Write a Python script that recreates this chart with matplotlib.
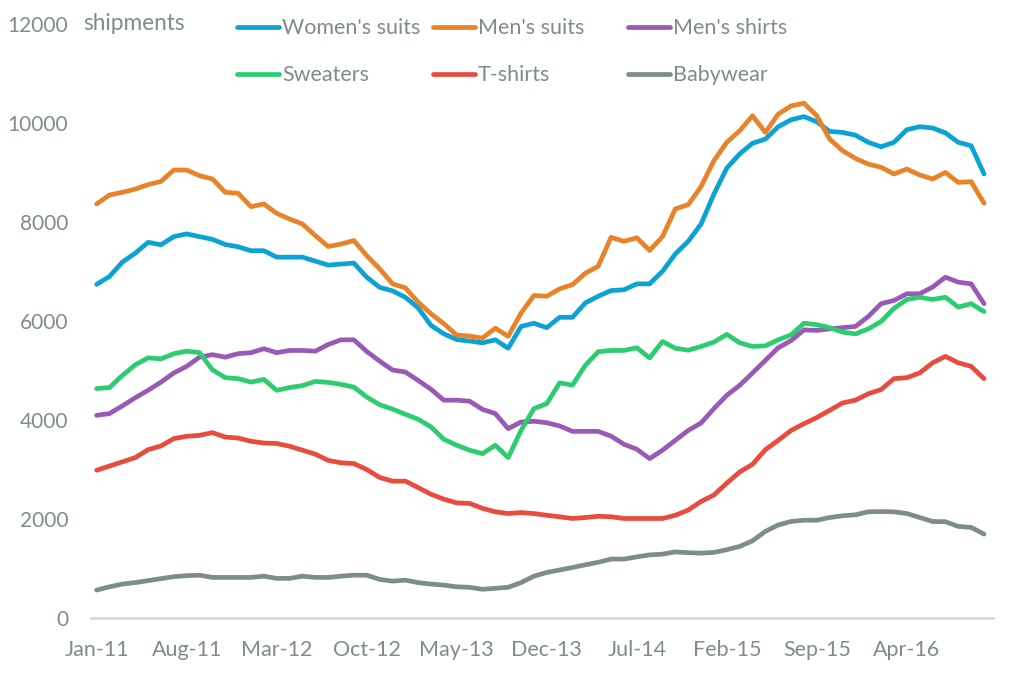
import matplotlib
matplotlib.use("Agg")
import matplotlib.pyplot as plt
from matplotlib.lines import Line2D
import numpy as np

plt.rcParams['font.family'] = ['Lato', 'DejaVu Sans']

months = ["Jan-11","Feb-11","Mar-11","Apr-11","May-11","Jun-11","Jul-11","Aug-11","Sep-11","Oct-11","Nov-11","Dec-11",
          "Jan-12","Feb-12","Mar-12","Apr-12","May-12","Jun-12","Jul-12","Aug-12","Sep-12","Oct-12","Nov-12","Dec-12",
          "Jan-13","Feb-13","Mar-13","Apr-13","May-13","Jun-13","Jul-13","Aug-13","Sep-13","Oct-13","Nov-13","Dec-13",
          "Jan-14","Feb-14","Mar-14","Apr-14","May-14","Jun-14","Jul-14","Aug-14","Sep-14","Oct-14","Nov-14","Dec-14",
          "Jan-15","Feb-15","Mar-15","Apr-15","May-15","Jun-15","Jul-15","Aug-15","Sep-15","Oct-15","Nov-15","Dec-15",
          "Jan-16","Feb-16","Mar-16","Apr-16","May-16","Jun-16","Jul-16","Aug-16","Sep-16","Oct-16"]
tick_labels = ["Jan-11","Aug-11","Mar-12","Oct-12","May-13","Dec-13","Jul-14","Feb-15","Sep-15","Apr-16"]

womens_suits = [6740, 6900, 7190, 7370, 7590, 7540, 7705, 7760, 7705, 7650, 7545, 7500,
                7420, 7420, 7290, 7290, 7290, 7210, 7130, 7150, 7170, 6885, 6680, 6610,
                6480, 6265, 5910, 5740, 5625, 5595, 5560, 5620, 5450, 5890, 5955, 5865,
                6075, 6075, 6365, 6500, 6615, 6630, 6750, 6750, 7005, 7355, 7610, 7960,
                8565, 9090, 9375, 9590, 9675, 9925, 10065, 10130, 10025, 9830, 9810, 9755,
                9610, 9520, 9610, 9865, 9925, 9900, 9800, 9610, 9540, 8970]
mens_suits = [8365, 8545, 8600, 8665, 8755, 8820, 9050, 9050, 8935, 8870, 8600, 8580,
              8310, 8365, 8175, 8060, 7960, 7725, 7505, 7555, 7625, 7320, 7055, 6750,
              6670, 6380, 6145, 5945, 5715, 5695, 5655, 5855, 5690, 6160, 6515, 6500,
              6650, 6735, 6965, 7105, 7690, 7610, 7680, 7425, 7705, 8265, 8350, 8715,
              9240, 9610, 9845, 10145, 9810, 10180, 10345, 10400, 10145, 9675, 9440, 9285,
              9170, 9105, 8970, 9070, 8950, 8870, 9000, 8800, 8815, 8380]
mens_shirts = [4095, 4130, 4285, 4450, 4600, 4765, 4950, 5085, 5270, 5320, 5270, 5340,
               5360, 5440, 5360, 5405, 5405, 5390, 5525, 5620, 5620, 5385, 5190, 5010,
               4970, 4800, 4620, 4400, 4400, 4380, 4215, 4130, 3825, 3960, 3975, 3945,
               3880, 3770, 3770, 3770, 3675, 3510, 3410, 3220, 3390, 3590, 3790, 3940,
               4230, 4500, 4700, 4950, 5205, 5460, 5605, 5820, 5810, 5840, 5865, 5890,
               6090, 6350, 6415, 6550, 6550, 6685, 6885, 6785, 6750, 6350]
sweaters = [4635, 4655, 4900, 5115, 5255, 5235, 5340, 5390, 5360, 5015, 4855, 4835,
            4765, 4820, 4600, 4655, 4695, 4780, 4760, 4720, 4665, 4465, 4310, 4220,
            4115, 4015, 3860, 3610, 3490, 3390, 3320, 3490, 3240, 3790, 4230, 4330,
            4750, 4705, 5105, 5380, 5405, 5405, 5460, 5255, 5585, 5450, 5410, 5485,
            5575, 5730, 5560, 5485, 5500, 5620, 5720, 5955, 5925, 5865, 5775, 5740,
            5840, 5990, 6255, 6435, 6480, 6435, 6480, 6280, 6350, 6190]
tshirts = [2985, 3070, 3155, 3240, 3400, 3475, 3625, 3670, 3690, 3745, 3655, 3635,
           3570, 3535, 3525, 3470, 3390, 3310, 3185, 3135, 3120, 3000, 2840, 2765,
           2765, 2635, 2500, 2400, 2325, 2315, 2215, 2145, 2110, 2130, 2110, 2075,
           2045, 2010, 2030, 2055, 2045, 2010, 2010, 2010, 2010, 2075, 2180, 2355,
           2485, 2725, 2950, 3105, 3400, 3590, 3790, 3925, 4050, 4195, 4345, 4400,
           4530, 4615, 4835, 4855, 4950, 5155, 5285, 5155, 5085, 4835]
babywear = [565, 630, 685, 715, 755, 795, 835, 855, 865, 820, 820, 820,
            820, 845, 800, 800, 845, 820, 820, 845, 865, 865, 780, 745,
            765, 715, 685, 665, 630, 620, 580, 600, 620, 715, 845, 920,
            970, 1020, 1075, 1125, 1190, 1190, 1235, 1275, 1290, 1335, 1320, 1310,
            1325, 1380, 1445, 1560, 1750, 1880, 1950, 1975, 1975, 2030, 2065, 2085,
            2145, 2150, 2145, 2110, 2030, 1950, 1945, 1850, 1830, 1695]

series_names = ["Women's suits", "Men's suits", "Men's shirts", "Sweaters", "T-shirts", "Babywear"]
series_values = [womens_suits, mens_suits, mens_shirts, sweaters, tshirts, babywear]
colors = ["#0aa3d3", "#e8832a", "#9b59b6", "#2ecc71", "#e74c3c", "#7f8c8d"]

text_color = "#7f8c8d"
W, H = 1017, 675
fig = plt.figure(figsize=(W/100, H/100), dpi=100)
ax = fig.add_axes([91/W, 1-618/H, (993-91)/W, (618-24)/H])

x = np.arange(len(months))
for vals, c, n in zip(series_values, colors, series_names):
    ax.plot(x, vals, color=c, lw=3.4, solid_joinstyle='round', solid_capstyle='round', label=n)

ax.set_xlim(-0.44, 69.7)
ax.set_ylim(0, 12000)
ax.set_yticks(range(0, 12001, 2000))
ax.set_yticklabels([str(v) for v in range(0, 12001, 2000)])
ax.set_xticks([months.index(t) for t in tick_labels])
ax.set_xticklabels(tick_labels)
ax.tick_params(axis='both', length=0, colors=text_color)
ax.tick_params(axis='y', pad=16.5, labelsize=15)
ax.tick_params(axis='x', pad=15.5, labelsize=15.5)
for s in ['top', 'right', 'left']:
    ax.spines[s].set_visible(False)
ax.spines['bottom'].set_color('#d9d9d9')
ax.spines['bottom'].set_linewidth(2)

fig.text(83/W, 1-24/H, "shipments", color=text_color, fontsize=16.3, va='center', ha='left')

# legend, drawn manually in figure pixels
leg_pos = [(237, 27), (433, 27), (628, 27), (237, 74), (433, 74), (628, 74)]
for (px, py), c, n in zip(leg_pos, colors, series_names):
    fig.add_artist(Line2D([px/W, (px+42)/W], [1-py/H, 1-py/H], color=c, lw=3.4,
                          solid_capstyle='round', transform=fig.transFigure))
    fig.text((px+45)/W, 1-(py+1)/H, n, color=text_color, fontsize=15.5, va='center', ha='left')

fig.savefig("out.png", dpi=100)
